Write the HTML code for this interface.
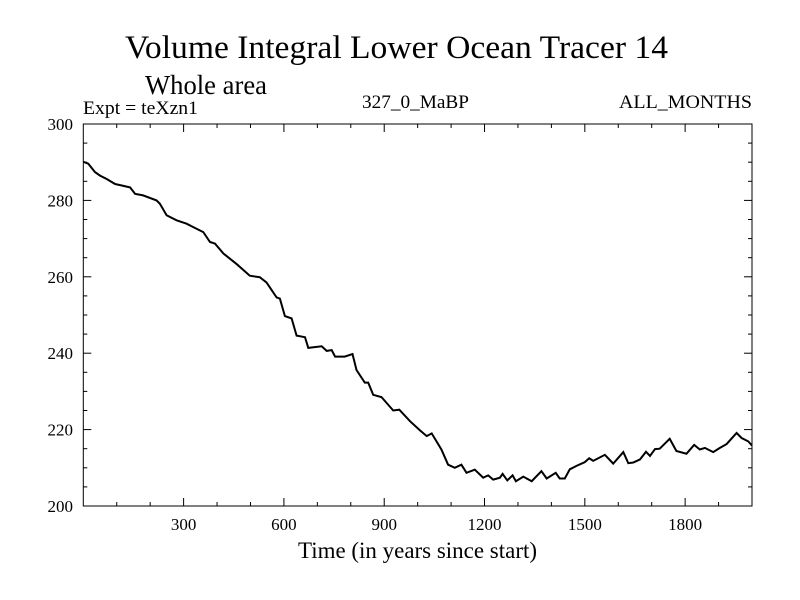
<!DOCTYPE html>
<html><head><meta charset="utf-8"><style>
html,body{margin:0;padding:0;background:#fff;width:800px;height:600px;overflow:hidden}
text{font-family:"Liberation Serif",serif;fill:#000}
</style></head><body>
<svg id="chart" width="800" height="600" xmlns="http://www.w3.org/2000/svg">
<text x="125" y="58" font-size="33" textLength="543" lengthAdjust="spacingAndGlyphs">Volume Integral Lower Ocean Tracer 14</text>
<text x="145" y="94" font-size="27" textLength="122" lengthAdjust="spacingAndGlyphs">Whole area</text>
<text x="83" y="114" font-size="19" textLength="115" lengthAdjust="spacingAndGlyphs">Expt = teXzn1</text>
<text x="362" y="108" font-size="19" textLength="107" lengthAdjust="spacingAndGlyphs">327_0_MaBP</text>
<text x="619" y="108" font-size="19" textLength="133" lengthAdjust="spacingAndGlyphs">ALL_MONTHS</text>
<text x="298" y="558" font-size="23" textLength="239" lengthAdjust="spacingAndGlyphs">Time (in years since start)</text>
<g id="axes"></g>
<path id="series" fill="none" stroke="#000" stroke-width="2"/>
<rect x="83.3" y="124" width="668.7" height="382" fill="none" stroke="#000" stroke-width="1"/>
</svg>
<script>
const years=[0,15,35,50,70,95,115,140,155,179,219,229,249,279,309,329,359,379,394,419,459,498,528,548,578,588,603,623,638,663,673,713,728,743,753,782,805,817,842,852,867,892,927,945,977,1007,1027,1042,1071,1091,1111,1131,1146,1171,1196,1211,1226,1246,1254,1268,1284,1294,1316,1341,1370,1386,1413,1425,1440,1455,1475,1500,1513,1525,1560,1585,1615,1630,1645,1665,1683,1695,1710,1724,1754,1774,1804,1827,1844,1859,1884,1904,1924,1954,1969,1989,2000];
const values=[290.1,289.6,287.4,286.5,285.6,284.3,283.9,283.4,281.7,281.3,280,279.1,276.1,274.8,273.9,273,271.7,269.1,268.7,266.1,263.3,260.3,259.9,258.5,254.6,254.3,249.7,249.1,244.6,244.2,241.4,241.8,240.6,240.8,239.1,239.1,239.8,235.6,232.3,232.3,229.1,228.5,225,225.2,222.2,219.8,218.3,219,214.8,210.8,210,210.8,208.7,209.5,207.4,208,206.9,207.4,208.4,206.7,208,206.5,207.7,206.5,209.1,207.2,208.7,207.2,207.2,209.6,210.5,211.5,212.5,211.8,213.4,211.1,214.1,211.2,211.4,212.2,214.2,213.1,214.9,215,217.6,214.4,213.7,216,214.8,215.2,214.1,215.2,216.2,219.1,217.8,216.9,215.8];
const xTicks=[300,600,900,1200,1500,1800];
const yTicks=[200,220,240,260,280,300];
const X0=83.3,X1=752,Y0=506,Y1=124,xmin=0,xmax=2000,ymin=200,ymax=300;
const sx=v=>X0+(v-xmin)/(xmax-xmin)*(X1-X0);
const sy=v=>Y0-(v-ymin)/(ymax-ymin)*(Y0-Y1);
const NS="http://www.w3.org/2000/svg";
const g=document.getElementById('axes');
function line(x1,y1,x2,y2,name){const l=document.createElementNS(NS,'line');
l.setAttribute('x1',x1);l.setAttribute('y1',y1);l.setAttribute('x2',x2);l.setAttribute('y2',y2);
l.setAttribute('stroke','#000');l.setAttribute('stroke-width','1');


g.appendChild(l);}
function txt(x,y,s,anchor,name){const t=document.createElementNS(NS,'text');
t.setAttribute('x',x);t.setAttribute('y',y);t.setAttribute('font-size','17');t.setAttribute('text-anchor',anchor);t.textContent=s;


g.appendChild(t);}
for(let v=100;v<xmax;v+=100){const x=sx(v);const L=(v%300===0)?8:4;
line(x,Y0,x,Y0-L,'x-tick');line(x,Y1,x,Y1+L,'x-tick-top');}
for(let v=ymin+5;v<ymax;v+=5){const y=sy(v);const L=(v%20===0)?8:4;
line(X0,y,X0+L,y,'y-tick');line(X1,y,X1-L,y,'y-tick-right');}
xTicks.forEach(v=>txt(sx(v),530,String(v),'middle','x-tick-label'));
yTicks.forEach(v=>txt(73,sy(v)+6,String(v),'end','y-tick-label'));
let d='';years.forEach((yr,i)=>{d+=(i?'L':'M')+sx(yr).toFixed(1)+','+sy(values[i]).toFixed(1);});
document.getElementById('series').setAttribute('d',d);
</script>
</body></html>
